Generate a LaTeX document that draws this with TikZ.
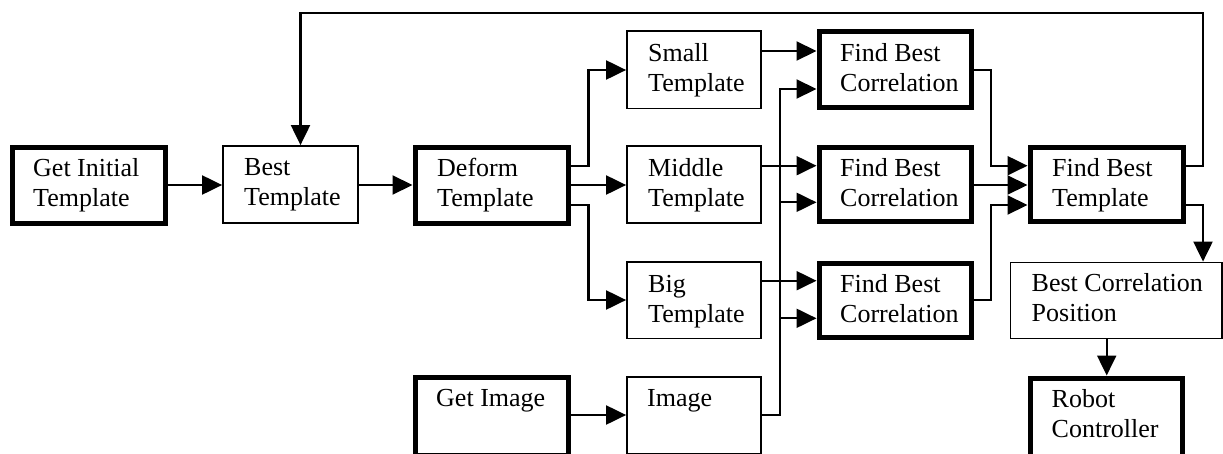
\documentclass[tikz,border=0pt]{standalone}
\usepackage{fontspec}
\setmainfont{Liberation Serif}
\usetikzlibrary{arrows.meta}
% two left-aligned lines whose first baseline is the node baseline
\newcommand{\twolines}[2]{\begin{tabular}[t]{@{}l@{}}#1\\#2\end{tabular}}
\begin{document}
\begin{tikzpicture}[x=1pt,y=-1pt,
  thinbox/.style={draw, line width=1.8pt, inner sep=0pt},
  thickbox/.style={draw, line width=5pt, inner sep=0pt},
  txt/.style={anchor=base west, inner sep=0pt, font=\fontsize{26}{30}\selectfont},
  conn/.style={line width=2.1pt},
  arr/.style={conn, -{Triangle[length=20pt,width=19pt]}}]
\useasboundingbox (0,0) rectangle (1223,453);
\clip (0,0) rectangle (1223,453);

% boxes
\node[thickbox, minimum width=153pt,   minimum height=76pt]   (gi)  at (88.5,185) {};
\node[thinbox,  minimum width=135pt,   minimum height=77pt]   (bt)  at (290.5,184.5) {};
\node[thickbox, minimum width=153.5pt, minimum height=76pt]   (dt)  at (491.75,185) {};
\node[thinbox,  minimum width=134pt,   minimum height=77.5pt] (st)  at (694,69.75) {};
\node[thinbox,  minimum width=134pt,   minimum height=77pt]   (mt)  at (694,184.5) {};
\node[thinbox,  minimum width=134pt,   minimum height=76.5pt] (bg)  at (694,300.25) {};
\node[thinbox,  minimum width=134pt,   minimum height=76.8pt] (im)  at (694,415.4) {};
\node[thickbox, minimum width=153.5pt, minimum height=78.4pt] (gm)  at (491.75,416.2) {};
\node[thickbox, minimum width=152.5pt, minimum height=76pt]   (fc1) at (895.25,69.5) {};
\node[thickbox, minimum width=152.5pt, minimum height=74.5pt] (fc2) at (895.25,184.25) {};
\node[thickbox, minimum width=152.5pt, minimum height=74.5pt] (fc3) at (895.25,300.25) {};
\node[thickbox, minimum width=153pt,   minimum height=74.5pt] (fbt) at (1106.5,184.25) {};
\node[thinbox,  minimum width=211.5pt, minimum height=76pt]   (bcp) at (1116.25,300.5) {};
\node[thickbox, minimum width=151.5pt, minimum height=78pt]   (rc)  at (1106.25,417) {};

% labels
\node[txt] (gi-t)  at (33,176.7)   {\twolines{Get Initial}{Template}};
\node[txt] (bt-t)  at (244,175.7)  {\twolines{Best}{Template}};
\node[txt] (dt-t)  at (437,176.7)  {\twolines{Deform}{Template}};
\node[txt] (st-t)  at (648,61.5)   {\twolines{Small}{Template}};
\node[txt] (mt-t)  at (648,176)    {\twolines{Middle}{Template}};
\node[txt] (bg-t)  at (648,292)    {\twolines{Big}{Template}};
\node[txt] (im-t)  at (647,406.7)  {Image};
\node[txt] (gm-t)  at (436,406.7)  {Get Image};
\node[txt] (fc1-t) at (840,61.2)   {\twolines{Find Best}{Correlation}};
\node[txt] (fc2-t) at (840,176.7)  {\twolines{Find Best}{Correlation}};
\node[txt] (fc3-t) at (840,292.7)  {\twolines{Find Best}{Correlation}};
\node[txt] (fbt-t) at (1052,176.7) {\twolines{Find Best}{Template}};
\node[txt] (bcp-t) at (1031.5,291.7) {\twolines{Best Correlation}{Position}};
\node[txt] (rc-t)  at (1051.5,407.7) {\twolines{Robot}{Controller}};

% main row
\draw[arr] (gi.east |- 0,185) -- (bt.west |- 0,185);
\draw[arr] (bt.east |- 0,185) -- (dt.west |- 0,185);

% deformation into three template sizes
\draw[arr] (dt.east |- 0,165.7) -- (588.5,165.7) |- (st.west |- 0,70);
\draw[arr] (dt.east |- 0,185) -- (mt.west |- 0,185);
\draw[arr] (dt.east |- 0,205) -- (588.5,205) |- (bg.west |- 0,300);

% templates into correlation
\draw[arr] (st.east |- 0,51) -- (fc1.west |- 0,51);
\draw[arr] (mt.east |- 0,165.7) -- (fc2.west |- 0,165.7);
\draw[arr] (bg.east |- 0,280.7) -- (fc3.west |- 0,280.7);

% image acquisition and image bus
\draw[arr] (gm.east |- 0,415) -- (im.west |- 0,415);
\draw[arr] (im.east |- 0,415) -| (780,89) -- (fc1.west |- 0,89);
\draw[arr] (im.east |- 0,415) -| (780,202.3) -- (fc2.west |- 0,202.3);
\draw[arr] (im.east |- 0,415) -| (780,318.3) -- (fc3.west |- 0,318.3);

% correlation results into template selection
\draw[arr] (fc1.east |- 0,70) -| (991.3,165.7) -- (fbt.west |- 0,165.7);
\draw[arr] (fc2.east |- 0,185) -- (fbt.west |- 0,185);
\draw[arr] (fc3.east |- 0,300) -| (991.3,205) -- (fbt.west |- 0,205);

% feedback and outputs
\draw[arr] (fbt.east |- 0,165.7) -| (1203,13) -| (bt.north -| 300.5,0);
\draw[arr] (fbt.east |- 0,205) -| (bcp.north -| 1203,0);
\draw[arr] (bcp.south -| 1106.7,0) -- (rc.north -| 1106.7,0);
\end{tikzpicture}
\end{document}
